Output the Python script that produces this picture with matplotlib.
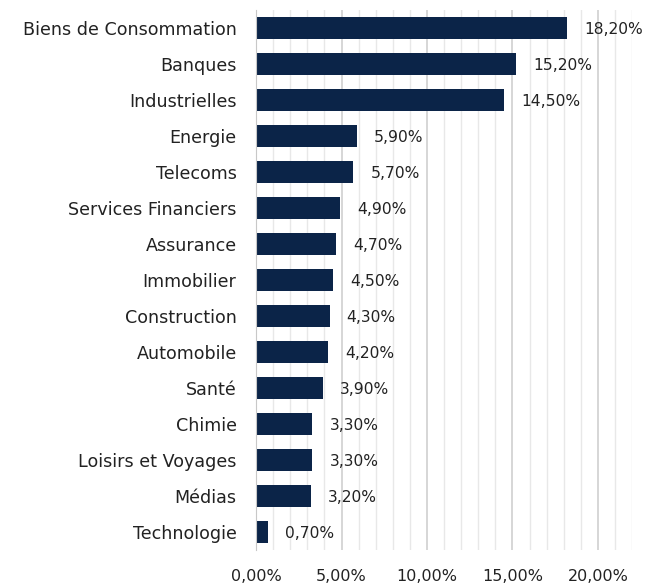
import matplotlib.pyplot as plt
from matplotlib.ticker import MultipleLocator, FuncFormatter

secteurs = ["Biens de Consommation", "Banques", "Industrielles", "Energie", "Telecoms",
            "Services Financiers", "Assurance", "Immobilier", "Construction", "Automobile",
            "Santé", "Chimie", "Loisirs et Voyages", "Médias", "Technologie"]
poids = [18.2, 15.2, 14.5, 5.9, 5.7, 4.9, 4.7, 4.5, 4.3, 4.2, 3.9, 3.3, 3.3, 3.2, 0.7]

def fr_pct(v, pos=None):
    return f"{v:.2f}%".replace(".", ",")

fig = plt.figure(figsize=(6.45, 5.83), dpi=100)
ax = fig.add_axes([0.397, 0.057, 0.583, 0.926])

y = list(range(len(secteurs)))
ax.barh(y, poids, height=0.6, color="#0b2448", zorder=3)
for yi, v in zip(y, poids):
    ax.text(v + 1.0, yi + 0.05, fr_pct(v), va="center", ha="left", fontsize=11.2, color="#222222")

ax.set_yticks(y)
ax.set_yticklabels(secteurs, fontsize=12.6, color="#222222")
ax.set_ylim(len(secteurs) - 0.5, -0.5)

ax.set_xlim(0, 22)
ax.xaxis.set_major_locator(MultipleLocator(5))
ax.xaxis.set_minor_locator(MultipleLocator(1))
ax.xaxis.set_major_formatter(FuncFormatter(fr_pct))
ax.tick_params(axis="x", labelsize=11.5, colors="#222222", length=0, pad=14, which="both")
ax.tick_params(axis="y", length=0, pad=14)
ax.grid(axis="x", which="major", color="#d0d0d0", lw=1.2, zorder=0)
ax.grid(axis="x", which="minor", color="#e8e8e8", lw=1.0, zorder=0)

for s in ["top", "right", "bottom"]:
    ax.spines[s].set_visible(False)
ax.spines["left"].set_color("#c8c8c8")
ax.spines["left"].set_zorder(4)

fig.savefig("out.png", dpi=100)
